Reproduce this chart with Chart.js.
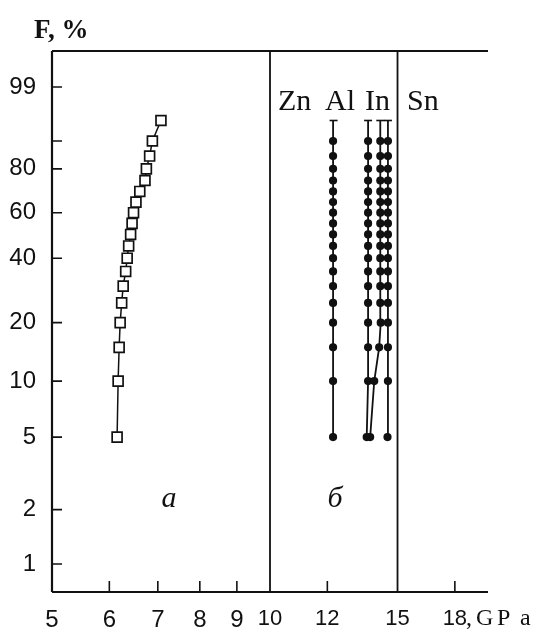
<!DOCTYPE html>
<html>
<head>
<meta charset="utf-8">
<script src="https://cdn.jsdelivr.net/npm/chart.js@4.4.0/dist/chart.umd.min.js"></script>
<style>
  html, body { margin: 0; padding: 0; background: #fff; }
  #wrap { width: 546px; height: 633px; position: relative; }
</style>
</head>
<body>
<div id="wrap"><canvas id="myChart"></canvas></div>
<script>
// failure probability, % (same ranks for every series)
const fPercent = [5, 10, 15, 20, 25, 30, 35, 40, 45, 50, 55, 60, 65, 70, 75, 80, 85, 90, 95];

// panel a, GPa
const strengthA = [6.15, 6.17, 6.19, 6.21, 6.24, 6.27, 6.32, 6.35, 6.38, 6.42, 6.45, 6.48, 6.53, 6.61, 6.72, 6.75, 6.82, 6.88, 7.07];
// panel б, GPa
const strengthB1 = [12.22, 12.22, 12.22, 12.22, 12.22, 12.22, 12.22, 12.22, 12.22, 12.22, 12.22, 12.22, 12.22, 12.22, 12.22, 12.22, 12.22, 12.22, 12.24];
const strengthB2 = [13.6, 13.66, 13.66, 13.66, 13.66, 13.66, 13.66, 13.66, 13.66, 13.66, 13.66, 13.66, 13.66, 13.66, 13.66, 13.66, 13.66, 13.66, 13.66];
const strengthB3 = [13.75, 13.93, 14.15, 14.22, 14.2, 14.2, 14.2, 14.2, 14.2, 14.2, 14.2, 14.2, 14.2, 14.2, 14.2, 14.2, 14.2, 14.2, 14.2];
const strengthB4 = [14.53, 14.55, 14.55, 14.55, 14.55, 14.55, 14.55, 14.55, 14.55, 14.55, 14.55, 14.55, 14.55, 14.55, 14.55, 14.55, 14.55, 14.55, 14.55];

const yTickPercent = [1, 2, 5, 10, 20, 40, 60, 80, 90, 99];
const yTickLabels = ['1', '2', '5', '10', '20', '40', '60', '80', '', '99'];
const xTickValues = [5, 6, 7, 8, 9, 10, 12, 15, 18];
const xInnerTicks = [6, 7, 8, 9, 12, 18];
const dividers = [10, 15];

// Weibull probability paper
const weib = (p) => Math.log(-Math.log(1 - p / 100));
const toPoints = (xs) => xs.map((x, i) => ({ x: x, y: weib(fPercent[i]) }));

const dotSeries = (label, xs) => ({
  label: label,
  data: toPoints(xs),
  showLine: true,
  borderColor: '#111',
  borderWidth: 1.8,
  pointStyle: xs.map((v, i) => i === xs.length - 1 ? 'line' : 'circle'),
  pointRadius: xs.map((v, i) => i === xs.length - 1 ? 4 : 3.3),
  pointBackgroundColor: '#111',
  pointBorderColor: '#111',
  pointBorderWidth: 1.6,
});

const framePlugin = {
  id: 'frame',
  beforeDatasetsDraw(chart) {
    const { ctx, chartArea: a, scales: { x, y } } = chart;
    ctx.save();
    ctx.strokeStyle = '#111';
    ctx.lineCap = 'butt';
    ctx.lineWidth = 2.2;
    ctx.beginPath();
    ctx.moveTo(a.left, a.top); ctx.lineTo(a.right, a.top);
    ctx.moveTo(a.left, a.top); ctx.lineTo(a.left, a.bottom);
    ctx.moveTo(a.left, a.bottom); ctx.lineTo(a.right, a.bottom);
    ctx.stroke();
    ctx.lineWidth = 1.8;
    ctx.beginPath();
    dividers.forEach(v => {
      const px = x.getPixelForValue(v);
      ctx.moveTo(px, a.top); ctx.lineTo(px, a.bottom);
    });
    ctx.stroke();
    ctx.lineWidth = 1.6;
    ctx.beginPath();
    yTickPercent.forEach(p => {
      const py = y.getPixelForValue(weib(p));
      ctx.moveTo(a.left, py); ctx.lineTo(a.left + 10, py);
    });
    xInnerTicks.forEach(v => {
      const px = x.getPixelForValue(v);
      ctx.moveTo(px, a.bottom); ctx.lineTo(px, a.bottom - 11);
    });
    ctx.stroke();
    ctx.restore();
  },
  afterDraw(chart) {
    const { ctx } = chart;
    ctx.save();
    ctx.fillStyle = '#111';
    ctx.textBaseline = 'alphabetic';
    ctx.textAlign = 'left';
    ctx.font = 'bold 27px "Liberation Serif"';
    ctx.fillText('F, %', 34, 38);
    ctx.font = '30px "Liberation Serif"';
    ctx.fillText('Zn', 278, 110);
    ctx.fillText('Al', 325, 110);
    ctx.fillText('In', 365, 110);
    ctx.fillText('Sn', 407, 110);
    ctx.font = 'italic 30px "Liberation Serif"';
    ctx.textAlign = 'center';
    ctx.fillText('a', 169, 507);
    ctx.fillText('б', 335, 507);
    ctx.textAlign = 'left';
    ctx.font = '24px "Liberation Serif"';
    ctx.fillText(',', 466, 625);
    ctx.fillText('G', 476, 625);
    ctx.fillText('P', 497, 625);
    ctx.fillText('a', 520, 625);
    ctx.restore();
  }
};

const ctx = document.getElementById('myChart').getContext('2d');
new Chart(ctx, {
  type: 'scatter',
  data: {
    datasets: [
      {
        label: 'a',
        data: toPoints(strengthA),
        showLine: true,
        borderColor: '#111',
        borderWidth: 1.5,
        pointStyle: 'rect',
        pointRadius: 7,
        pointBackgroundColor: '#fff',
        pointBorderColor: '#111',
        pointBorderWidth: 1.7,
      },
      dotSeries('б1', strengthB1),
      dotSeries('б2', strengthB2),
      dotSeries('б3', strengthB3),
      dotSeries('б4', strengthB4),
    ],
  },
  options: {
    responsive: true,
    maintainAspectRatio: false,
    animation: false,
    layout: { padding: { top: 51, right: 58, left: 0, bottom: 0 } },
    plugins: { legend: { display: false }, tooltip: { enabled: false } },
    elements: { line: { tension: 0 } },
    scales: {
      x: {
        type: 'logarithmic',
        min: 5,
        max: 20,
        grid: { display: false },
        border: { display: false },
        afterFit: (s) => { s.height = 41; },
        afterBuildTicks: (s) => { s.ticks = xTickValues.map(v => ({ value: v })); },
        ticks: {
          autoSkip: false,
          maxRotation: 0,
          padding: 6,
          color: '#111',
          font: (c) => ({ family: 'Liberation Sans', size: c.tick && c.tick.value < 10 ? 24 : 22 }),
          callback: (v) => String(v),
        },
      },
      y: {
        type: 'linear',
        min: -4.96,
        max: 1.99,
        grid: { display: false },
        border: { display: false },
        afterFit: (s) => { s.width = 52; },
        afterBuildTicks: (s) => { s.ticks = yTickPercent.map(p => ({ value: weib(p) })); },
        ticks: {
          autoSkip: false,
          padding: 8,
          color: '#111',
          font: { family: 'Liberation Sans', size: 24 },
          callback: (v, i) => yTickLabels[i],
        },
      },
    },
  },
  plugins: [framePlugin],
});
</script>
</body>
</html>
